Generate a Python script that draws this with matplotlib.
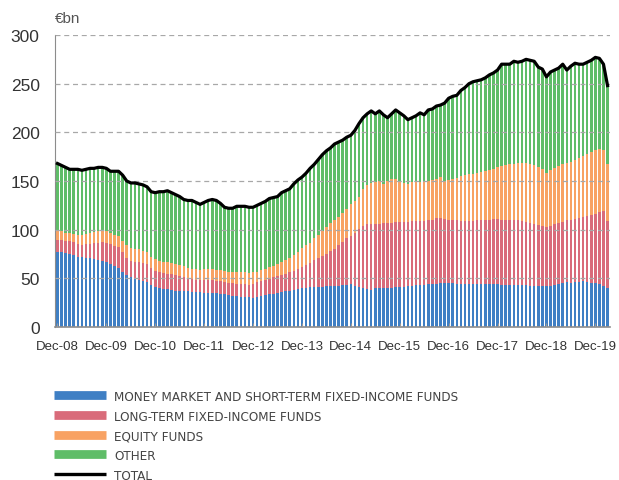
import numpy as np
import matplotlib.pyplot as plt
from matplotlib.lines import Line2D

# monthly, Dec-08 .. Mar-20, values in EUR bn
# levels are the top edge of each stacked band
total = [168,
         166, 164, 162, 162, 162, 161, 162, 163, 163, 164, 164, 163,
         160, 160, 160, 156, 150, 148, 148, 147, 146, 144, 139, 138,
         139, 139, 140, 138, 136, 134, 131, 130, 130, 128, 126, 128,
         130, 131, 130, 127, 123, 122, 122, 124, 124, 124, 123, 123,
         125, 127, 129, 132, 133, 134, 138, 140, 142, 147, 151, 154,
         158, 163, 167, 172, 177, 181, 184, 188, 190, 192, 195, 197,
         202, 209, 215, 219, 222, 219, 222, 218, 215, 219, 223, 220,
         217, 213, 215, 217, 220, 218, 223, 224, 227, 228, 230, 235,
         237, 238, 243, 246, 250, 252, 253, 254, 256, 259, 261, 264,
         270, 270, 270, 273, 272, 273, 275, 274, 273, 267, 265, 257,
         262, 264, 266, 270, 264, 268, 271, 270, 270, 272, 274, 277,
         276, 270, 248]

mm_top = [77,
          77, 76, 75, 74, 72, 72, 71, 71, 70, 69, 68, 67,
          65, 63, 61, 57, 53, 51, 49, 48, 47, 46, 43, 41,
          40, 39, 39, 38, 37.5, 37, 36.5, 36.5, 36, 36, 36, 35,
          35, 35, 35, 34, 33.5, 33, 32, 31.5, 31, 31, 31, 30,
          31, 32, 33, 33.5, 34, 35, 36, 37, 37.5, 38, 39, 40,
          40.5, 41, 41, 41.5, 41.5, 42, 42, 42, 42.5, 43, 43, 44.5,
          42, 41, 40, 39, 38.5, 40, 40, 40, 40, 40, 41, 41,
          41.5, 42, 42, 43, 43, 43.5, 44, 44.5, 44.5, 45, 45.5, 45,
          45, 44.5, 44.5, 44.5, 44.5, 44.5, 44.5, 44.5, 44.5, 44, 44, 44,
          43.5, 43.5, 43.5, 43.5, 43, 43, 43, 42.5, 42, 42, 42, 42,
          42, 43, 44, 45, 46, 45.5, 46, 46.5, 47, 46, 45, 45,
          44.5, 42, 40]

lt_top = [89,
          89, 88, 88, 87, 85, 84, 85, 85.5, 86, 86.5, 87, 86,
          85, 83, 82, 77, 71, 68, 67, 67, 66, 65, 61, 58,
          56, 55, 54.5, 54, 53, 52, 51, 50, 49, 48.5, 48, 48,
          48, 48, 47.5, 47, 46, 45.5, 45, 44.5, 44, 44, 43.5, 44,
          46, 47, 48, 49.5, 51, 52, 53, 54, 56, 58, 60, 62,
          64, 66, 69, 71, 73, 75, 78, 80, 84, 87, 91, 94,
          97, 101, 104, 106, 106, 106, 106, 107, 107, 107, 107.5, 108,
          108, 108, 108.5, 108.5, 109, 109, 109.5, 110, 112, 112, 111, 110,
          109.5, 109.5, 109, 109, 109, 109, 109.5, 110, 110, 110, 110.5, 110.5,
          110, 110, 110, 109.5, 109.5, 109, 108, 107, 106, 105, 104, 103,
          104, 106, 107, 108, 109.5, 110, 111, 112, 113, 114, 115, 116,
          118, 119, 109]

eq_top = [100,
          99, 97, 97, 96, 95, 95, 96, 97, 98, 99, 99, 99,
          97, 95, 94, 88, 84, 81, 80, 80, 78, 77, 72, 70,
          68, 67, 66.5, 66, 65, 64, 63, 61, 60, 59.5, 59, 60,
          60, 60, 59, 58.5, 58, 57, 56.5, 56, 56, 56, 55.5, 56,
          57, 59, 60, 62, 63, 65, 67, 69, 71, 74, 77, 81,
          84, 86, 91, 95, 99, 103, 107, 110, 113, 117, 121, 126,
          129, 134, 142, 146, 148, 149, 150, 147, 150, 152, 152, 150,
          148, 147, 149, 149, 149, 150, 150, 151, 152, 154, 150, 151,
          152, 153, 155, 156, 157, 157, 158, 159, 160, 161, 162, 164,
          165, 166, 167, 167.5, 168, 168, 168.5, 167, 166, 164, 162, 158,
          161, 163, 165, 167, 169, 170, 172, 174, 176, 178, 180, 182,
          183, 182, 167]

years = ["08", "09", "10", "11", "12", "13", "14", "15", "16", "17", "18", "19"]
tick_labels = ["Dec-" + y for y in years]

names = ["MONEY MARKET AND SHORT-TERM FIXED-INCOME FUNDS",
         "LONG-TERM FIXED-INCOME FUNDS",
         "EQUITY FUNDS",
         "OTHER"]
colors = ["#3f7fc4", "#d96b7a", "#f8a263", "#5fbd68"]


# band heights from the stacked levels
levels = np.vstack([np.zeros(len(total)), mm_top, lt_top, eq_top, total])
heights = np.diff(levels, axis=0)
x = np.arange(len(total))

fig = plt.figure(figsize=(6.19, 4.81), dpi=100)
ax = fig.add_axes([55/619, 1-328/481, 555/619, 292/481])

for k in range(4):
	ax.bar(x, heights[k], bottom=levels[k], width=0.62, color=colors[k], linewidth=0, zorder=1)

ax.plot(x, total, color="black", lw=2.3, zorder=4, solid_joinstyle="round")

ax.set_xlim(-0.6, len(total) - 0.4)
ax.set_ylim(0, 300)
ax.set_yticks(np.arange(0, 301, 50))
ax.set_xticks(np.arange(0, 12*len(years), 12))
ax.set_xticklabels(tick_labels)

ax.grid(axis="y", color="#a8a8a8", linestyle=(0, (4, 3)), lw=0.9)
ax.set_axisbelow(False)
for side in ["top", "right"]:
	ax.spines[side].set_visible(False)
ax.spines["left"].set_color("#8c8c8c")
ax.spines["bottom"].set_color("#8c8c8c")
ax.spines["bottom"].set_linewidth(1.2)

ax.tick_params(axis="y", length=0, pad=11, labelsize=12.5, labelcolor="#333333")
ax.tick_params(axis="x", direction="in", length=3, color="#999999", pad=9,
               labelsize=9.5, labelcolor="#333333")
for lab in ax.get_yticklabels() + ax.get_xticklabels():
	lab.set_fontfamily(["Liberation Sans", "DejaVu Sans"])

fig.text(55/619, 1-19/481, "€bn", fontsize=11, color="#555555", va="center", ha="left",
         family=["Liberation Sans", "DejaVu Sans"])

handles = [Line2D([], [], color=c, lw=6.3, solid_capstyle="butt") for c in colors]
handles.append(Line2D([], [], color="black", lw=2.4, solid_capstyle="butt"))
leg = fig.legend(handles, names + ["TOTAL"], loc="upper left",
                 bbox_to_anchor=(54/619, 1-391/481), frameon=False,
                 handlelength=3.9, handletextpad=0.6, labelspacing=0.5,
                 borderpad=0, borderaxespad=0,
                 prop={"family": "DejaVu Sans", "stretch": "condensed", "size": 9.6})
for t in leg.get_texts():
	t.set_color("#444444")

plt.savefig("out.png", dpi=100)
plt.close()
